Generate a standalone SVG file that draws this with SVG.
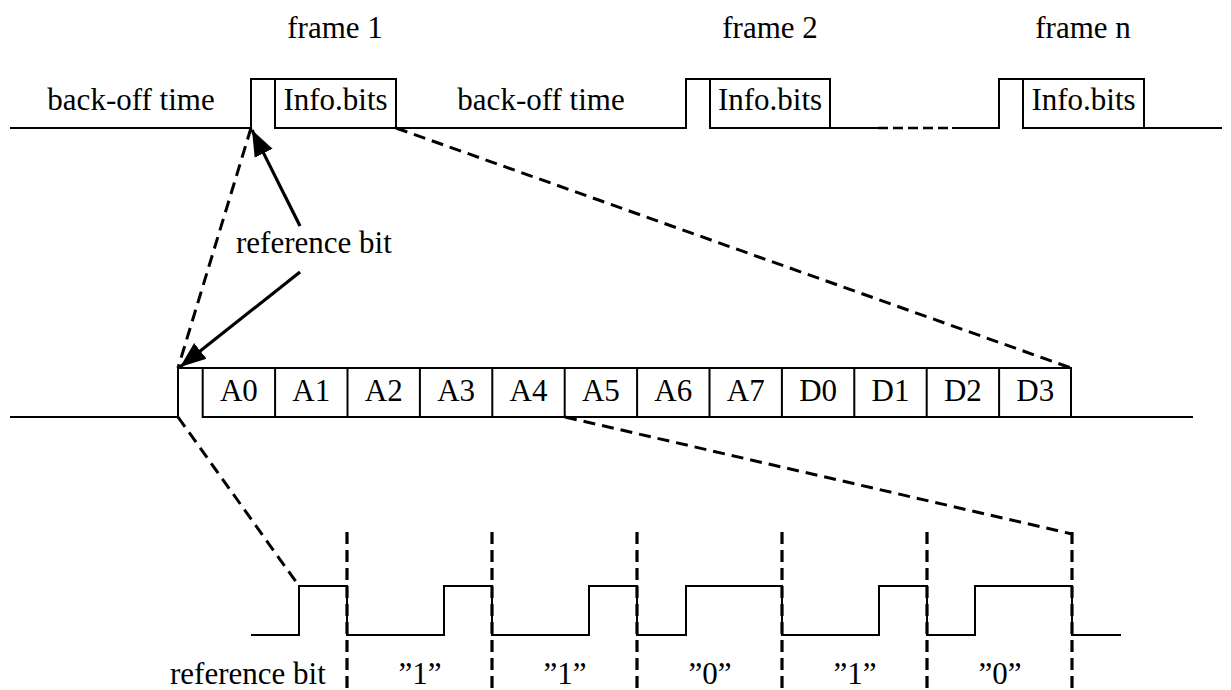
<svg xmlns="http://www.w3.org/2000/svg" width="1231" height="690" viewBox="0 0 1231 690">
<defs>
<style>
text{font-family:"Liberation Serif","Times New Roman",serif;font-size:31px;fill:#000}
.c{text-anchor:middle}
.w{fill:none;stroke:#000;stroke-width:2}
.d{fill:none;stroke:#000;stroke-width:3;stroke-dasharray:12 7}
.dv{fill:none;stroke:#000;stroke-width:3.2;stroke-dasharray:12 6}
.a{fill:none;stroke:#000;stroke-width:3.2}
</style>
<marker id="ah" markerUnits="userSpaceOnUse" markerWidth="28" markerHeight="22" refX="26" refY="11" orient="auto">
<path d="M0,1 L26,11 L0,21 Z" fill="#000"/>
</marker>
</defs>
<rect width="1231" height="690" fill="#fff"/>

<g id="frame-labels">
<text class="c" x="335" y="38">frame 1</text>
<text class="c" x="770" y="38">frame 2</text>
<text class="c" x="1083" y="38">frame n</text>
</g>

<g id="top-row">
<path class="w" d="M10,128 H251 V79 H396 V128 H686 V79 H830 V128 H878 M952,128 H999 V79 H1144 V128 H1222"/>
<path class="w" d="M275,79 V128 H396 M710,79 V128 H830 M1023,79 V128 H1144"/>
<path fill="none" stroke="#000" stroke-width="2.6" stroke-dasharray="10 5" d="M878,128 H952"/>
<text class="c" x="131" y="110">back-off time</text>
<text class="c" x="335.5" y="110">Info.bits</text>
<text class="c" x="541" y="110">back-off time</text>
<text class="c" x="770" y="110">Info.bits</text>
<text class="c" x="1083.5" y="110">Info.bits</text>
</g>

<g id="ref-label">
<text x="236" y="253">reference bit</text>
</g>

<g id="middle-row">
<path class="w" d="M10,417 H178 V368 H1071 V417 H1193"/>
<path class="w" d="M202.7,368 V417 H1071"/>
<path class="w" d="M275.1,368 V417 M347.5,368 V417 M419.9,368 V417 M492.3,368 V417 M564.7,368 V417 M637.1,368 V417 M709.5,368 V417 M781.9,368 V417 M854.3,368 V417 M926.7,368 V417 M999.1,368 V417"/>
<text class="c" x="238.9" y="401">A0</text>
<text class="c" x="311.3" y="401">A1</text>
<text class="c" x="383.7" y="401">A2</text>
<text class="c" x="456.1" y="401">A3</text>
<text class="c" x="528.5" y="401">A4</text>
<text class="c" x="600.9" y="401">A5</text>
<text class="c" x="673.3" y="401">A6</text>
<text class="c" x="745.7" y="401">A7</text>
<text class="c" x="818.1" y="401">D0</text>
<text class="c" x="890.5" y="401">D1</text>
<text class="c" x="962.9" y="401">D2</text>
<text class="c" x="1035.3" y="401">D3</text>
</g>

<g id="waveform">
<path class="w" d="M251,635 H299 V586 H347 V635 H444 V586 H492 V635 H589 V586 H637 V635 H686 V586 H782 V635 H879 V586 H927 V635 H975 V586 H1072 V635 H1121"/>
<text x="170" y="684">reference bit</text>
<text class="c" x="420" y="684">”1”</text>
<text class="c" x="565" y="684">”1”</text>
<text class="c" x="710" y="684">”0”</text>
<text class="c" x="855" y="684">”1”</text>
<text class="c" x="1000" y="684">”0”</text>
</g>

<g id="connectors">
<path class="d" d="M396,128 L1071,368"/>
<path class="d" d="M251,128 L178,368"/>
<path class="d" d="M178,417 L299,586"/>
<path class="d" d="M565,417 L1072,534"/>
<path class="dv" d="M347,532 V690 M492,532 V690 M637,532 V690 M782,532 V690 M927,532 V690 M1072,532 V690"/>
<path class="a" d="M300,226 L252,130" marker-end="url(#ah)"/>
<path class="a" d="M300,272 L180,367" marker-end="url(#ah)"/>
</g>
</svg>
